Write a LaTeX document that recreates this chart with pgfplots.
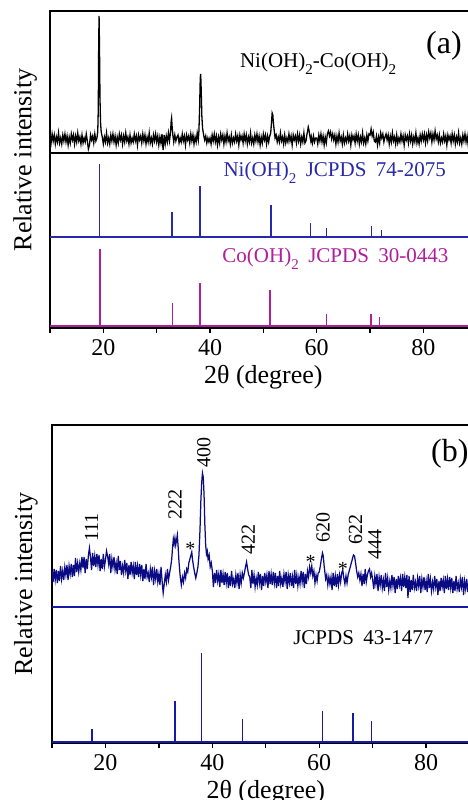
\documentclass[border=0pt]{standalone}
\usepackage{fontspec}
\setmainfont{Liberation Serif}
\usepackage{pgfplots}
\pgfplotsset{compat=1.18}
\definecolor{niblue}{RGB}{40,40,170}
\definecolor{comag}{RGB}{175,30,155}
\definecolor{navy}{RGB}{10,10,130}
\definecolor{bstick}{RGB}{25,25,165}
\newcommand{\fs}[1]{\fontsize{#1}{#1}\selectfont}
\newcommand{\sub}[1]{\raisebox{-0.32em}{\fontsize{15}{15}\selectfont #1}}
\pgfplotsset{
  xrdaxis/.style={
    scale only axis, xmin=10, xmax=90, ymin=0,
    axis line style={line width=1.3pt},
    xtick={20,40,60,80}, minor xtick={10,30,50,70,90},
    ytick=\empty,
    tick align=outside, tick pos=left,
    major tick length=5pt, minor tick length=5pt,
    every tick/.style={black, line width=1.3pt},
    /pgf/number format/assume math mode=true,
    tick label style={font=\fs{24}},
    label style={font=\fs{26}},
    xlabel={2θ (degree)},
    ylabel={Relative intensity},
    xticklabel style={yshift=-3pt},
    xlabel style={at={(axis description cs:0.5,0)}, anchor=north, inner sep=0pt, yshift=-37pt},
    clip=true,
  }
}
\begin{document}
\begin{tikzpicture}
\useasboundingbox (0,0) rectangle (468pt,800pt);
% ---------------- panel (a)
\begin{axis}[xrdaxis, at={(50pt,472pt)}, anchor=south west,
  width=426.7pt, height=317pt, ymax=317,
  ylabel style={at={(axis description cs:-0.030,0.53)}, anchor=south, inner sep=0pt}]
\addplot[black, line width=1.3pt] coordinates {
(10.0,192) (10.2,185) (10.4,194) (10.6,187) (10.8,193)
(11.0,184) (11.2,191) (11.4,186) (11.6,195) (11.8,185)
(12.0,190) (12.2,184) (12.4,193) (12.6,187) (12.8,194)
(13.0,186) (13.2,192) (13.4,183) (13.6,191) (13.8,185)
(14.0,194) (14.2,188) (14.4,193) (14.6,184) (14.8,192)
(15.0,186) (15.2,195) (15.4,187) (15.6,191) (15.8,184)
(16.0,193) (16.2,185) (16.4,190) (16.6,186) (16.8,194)
(17.0,187) (17.2,179) (17.4,183) (17.6,193) (17.8,188)
(18.0,192) (18.2,185) (18.4,194) (18.6,187) (18.8,190)
(18.95,196) (19.05,218) (19.13,285) (19.20,312) (19.28,282) (19.37,230) (19.47,206) (19.60,196) (19.80,191)
(20.0,184) (20.2,191) (20.4,186) (20.6,195) (20.8,185)
(21.0,190) (21.2,184) (21.4,193) (21.6,187) (21.8,194)
(22.0,186) (22.2,192) (22.4,183) (22.6,191) (22.8,185)
(23.0,194) (23.2,188) (23.4,193) (23.6,184) (23.8,192)
(24.0,186) (24.2,195) (24.4,187) (24.6,191) (24.8,184)
(25.0,193) (25.2,185) (25.4,190) (25.6,186) (25.8,194)
(26.0,187) (26.2,192) (26.4,183) (26.6,193) (26.8,188)
(27.0,192) (27.2,185) (27.4,194) (27.6,187) (27.8,193)
(28.0,184) (28.2,191) (28.4,186) (28.6,195) (28.8,185)
(29.0,190) (29.2,184) (29.4,193) (29.6,187) (29.8,194)
(30.0,186) (30.2,192) (30.4,183) (30.6,191) (30.8,185)
(31.0,194) (31.2,178) (31.4,193) (31.6,184) (31.8,192)
(32.0,186) (32.2,195) (32.4,187) (32.6,196) (32.72,207) (32.80,210) (32.90,201) (33.05,192) (33.2,186) (33.4,193) (33.6,187) (33.8,191)
(34.0,193) (34.2,185) (34.4,190) (34.6,186) (34.8,194)
(35.0,187) (35.2,192) (35.4,183) (35.6,193) (35.8,188)
(36.0,192) (36.2,185) (36.4,194) (36.6,187) (36.8,193)
(37.0,184) (37.2,191) (37.4,186) (37.6,195) (37.8,188)
(37.92,197) (38.05,220) (38.17,250) (38.25,254) (38.35,238) (38.47,212) (38.6,200) (38.8,193) (39.0,188) (39.2,192) (39.4,185) (39.6,190) (39.8,186)
(40.0,190) (40.2,184) (40.4,193) (40.6,187) (40.8,194)
(41.0,186) (41.2,192) (41.4,183) (41.6,191) (41.8,185)
(42.0,194) (42.2,188) (42.4,193) (42.6,184) (42.8,192)
(43.0,186) (43.2,195) (43.4,187) (43.6,191) (43.8,184)
(44.0,193) (44.2,185) (44.4,190) (44.6,186) (44.8,194)
(45.0,187) (45.2,192) (45.4,183) (45.6,193) (45.8,188)
(46.0,192) (46.2,185) (46.4,194) (46.6,187) (46.8,193)
(47.0,184) (47.2,191) (47.4,186) (47.6,195) (47.8,185)
(48.0,190) (48.2,184) (48.4,193) (48.6,187) (48.8,194)
(49.0,186) (49.2,192) (49.4,183) (49.6,191) (49.8,185)
(50.0,194) (50.2,188) (50.4,193) (50.6,184) (50.8,192)
(51.0,186) (51.2,192) (51.38,195) (51.52,205) (51.65,215) (51.78,213) (51.9,204) (52.05,197) (52.2,190) (52.4,193) (52.6,186) (52.8,191)
(53.0,186) (53.2,195) (53.4,187) (53.6,191) (53.8,184)
(54.0,193) (54.2,185) (54.4,190) (54.6,186) (54.8,194)
(55.0,187) (55.2,192) (55.4,183) (55.6,193) (55.8,188)
(56.0,192) (56.2,185) (56.4,194) (56.6,187) (56.8,193)
(57.0,184) (57.2,191) (57.4,186) (57.6,195) (57.8,185)
(58.0,187) (58.15,193) (58.3,197) (58.42,201) (58.55,198) (58.72,192) (58.9,187) (59.0,191) (59.2,185) (59.4,192) (59.6,186) (59.8,190)
(60.0,190) (60.2,184) (60.4,193) (60.6,187) (60.8,194)
(61.0,186) (61.2,192) (61.4,183) (61.6,191) (61.8,185)
(62.0,194) (62.2,197) (62.4,192) (62.6,196) (62.8,189)
(63.0,194) (63.2,188) (63.4,193) (63.6,184) (63.8,192)
(64.0,186) (64.2,195) (64.4,187) (64.6,191) (64.8,184)
(65.0,193) (65.2,185) (65.4,190) (65.6,186) (65.8,194)
(66.0,187) (66.2,192) (66.4,183) (66.6,193) (66.8,188)
(67.0,192) (67.2,185) (67.4,194) (67.6,187) (67.8,193)
(68.0,184) (68.2,191) (68.4,186) (68.6,195) (68.8,185)
(69.0,190) (69.2,184) (69.4,193) (69.6,187) (69.8,194)
(70.0,193) (70.2,199) (70.4,192) (70.6,196) (70.8,187)
(71.0,186) (71.2,192) (71.4,183) (71.6,191) (71.8,185)
(72.0,195) (72.2,190) (72.4,194) (72.6,186) (72.8,191)
(73.0,194) (73.2,188) (73.4,193) (73.6,184) (73.8,192)
(74.0,186) (74.2,195) (74.4,187) (74.6,191) (74.8,184)
(75.0,193) (75.2,185) (75.4,190) (75.6,186) (75.8,194)
(76.0,187) (76.2,192) (76.4,183) (76.6,193) (76.8,188)
(77.0,192) (77.2,185) (77.4,194) (77.6,187) (77.8,193)
(78.0,184) (78.2,191) (78.4,186) (78.6,195) (78.8,185)
(79.0,190) (79.2,184) (79.4,193) (79.6,187) (79.8,194)
(80.0,188) (80.2,194) (80.4,185) (80.6,193) (80.8,187)
(81.0,196) (81.2,190) (81.4,195) (81.6,186) (81.8,194)
(82.0,188) (82.2,197) (82.4,189) (82.6,193) (82.8,186)
(83.0,193) (83.2,185) (83.4,190) (83.6,186) (83.8,194)
(84.0,187) (84.2,192) (84.4,183) (84.6,193) (84.8,188)
(85.0,192) (85.2,185) (85.4,194) (85.6,187) (85.8,193)
(86.0,184) (86.2,191) (86.4,186) (86.6,195) (86.8,185)
(87.0,190) (87.2,184) (87.4,193) (87.6,187) (87.8,194)
(88.0,186) (88.2,192) (88.4,183) (88.6,191) (88.8,185)
(89.0,194) (89.2,188) (89.4,193) (89.6,184) (89.8,192) (90.0,190)
};
% separator
\addplot[black, line width=1.2pt] coordinates {(10,175) (90,175)};
% Ni(OH)2 sticks
\addplot[niblue, line width=1.3pt] coordinates {(10,91) (90,91)};
\addplot[niblue, line width=1.3pt, unbounded coords=jump] coordinates {
(19.25,91) (19.25,164) (19.25,inf)
(32.90,91) (32.90,116) (32.90,inf)
(38.15,91) (38.15,142) (38.15,inf)
(51.45,91) (51.45,123) (51.45,inf)
(58.90,91) (58.90,105) (58.90,inf)
(61.90,91) (61.90,100) (61.90,inf)
(70.25,91) (70.25,102) (70.25,inf)
(72.10,91) (72.10,98)
};
% Co(OH)2 sticks
\addplot[comag, line width=1.3pt] coordinates {(10,2) (90,2)};
\addplot[comag, line width=1.3pt, unbounded coords=jump] coordinates {
(19.40,2) (19.40,79) (19.40,inf)
(33.00,2) (33.00,25) (33.00,inf)
(38.10,2) (38.10,45) (38.10,inf)
(51.25,2) (51.25,38) (51.25,inf)
(61.80,2) (61.80,14) (61.80,inf)
(70.20,2) (70.20,14) (70.20,inf)
(71.80,2) (71.80,11)
};
\node[anchor=base west, font=\fs{21}, inner sep=0pt] at (axis cs:45.6,260) {Ni(OH)\sub{2}-Co(OH)\sub{2}};
\node[anchor=base west, font=\fs{32}, inner sep=0pt] at (axis cs:80.5,274) {(a)};
\node[anchor=base west, font=\fs{21}, inner sep=0pt, text=niblue] at (axis cs:42.5,151) {Ni(OH)\sub{2}\hspace{0.45em}JCPDS\hspace{0.45em}74-2075};
\node[anchor=base west, font=\fs{21}, inner sep=0pt, text=comag] at (axis cs:42.3,65) {Co(OH)\sub{2}\hspace{0.45em}JCPDS\hspace{0.45em}30-0443};
\end{axis}
% ---------------- panel (b)
\begin{axis}[xrdaxis, at={(52pt,57pt)}, anchor=south west,
  width=427.6pt, height=318pt, ymax=318,
  ylabel style={at={(axis description cs:-0.033,0.5)}, anchor=south, inner sep=0pt}]
\addplot[navy, line width=1.25pt] coordinates {
(10.0,172) (10.2,161) (10.4,174) (10.6,163) (10.8,173)
(11.0,160) (11.2,172) (11.4,162) (11.6,177) (11.8,164)
(12.0,172) (12.2,163) (12.4,176) (12.6,168) (12.8,178)
(13.0,163) (13.2,177) (13.4,169) (13.6,179) (13.8,166)
(14.0,178) (14.2,167) (14.4,185) (14.6,171) (14.8,180)
(15.0,171) (15.2,180) (15.4,173) (15.6,186) (15.8,175)
(16.0,186) (16.2,170) (16.4,184) (16.6,174) (16.8,187)
(17.0,195) (17.2,186) (17.4,173) (17.6,190) (17.8,177)
(18.0,187) (18.2,176) (18.4,189) (18.6,178) (18.8,188)
(19.0,172) (19.2,184) (19.4,174) (19.6,189) (19.8,176)
(20.0,183) (20.2,192) (20.4,187) (20.6,179) (20.8,189)
(21.0,170) (21.2,184) (21.4,176) (21.6,186) (21.8,173)
(22.0,180) (22.2,169) (22.4,187) (22.6,173) (22.8,182)
(23.0,168) (23.2,177) (23.4,170) (23.6,183) (23.8,172)
(24.0,180) (24.2,164) (24.4,178) (24.6,168) (24.8,181)
(25.0,170) (25.2,177) (25.4,164) (25.6,181) (25.8,168)
(26.0,177) (26.2,166) (26.4,179) (26.6,168) (26.8,178)
(27.0,162) (27.2,174) (27.4,164) (27.6,179) (27.8,166)
(28.0,170) (28.2,161) (28.4,174) (28.6,166) (28.8,176)
(29.0,158) (29.2,172) (29.4,164) (29.6,174) (29.8,161)
(30.0,169) (30.2,158) (30.4,176) (30.6,162) (30.8,150)
(31.0,159) (31.2,168) (31.4,161) (31.6,174) (31.8,163)
(32.0,170) (32.2,176) (32.4,184) (32.55,195) (32.7,204) (32.85,199) (33.0,205) (33.15,198) (33.3,203) (33.45,208) (33.6,196) (33.75,182) (33.9,172)
(34.0,166) (34.2,158) (34.4,166) (34.6,161) (34.8,170)
(35.0,165) (35.2,174) (35.4,171) (35.6,180) (35.8,184) (36.0,188) (36.15,191) (36.3,183) (36.5,176) (36.7,170) (36.9,165)
(37.1,170) (37.3,176) (37.5,188) (37.7,215) (37.85,242) (38.0,260) (38.15,270) (38.3,266) (38.45,248) (38.6,218) (38.75,198) (38.9,189) (39.05,192) (39.2,184) (39.4,188) (39.6,176) (39.8,180)
(40.0,172) (40.2,156) (40.4,170) (40.6,160) (40.8,173)
(41.0,162) (41.2,169) (41.4,156) (41.6,173) (41.8,160)
(42.0,169) (42.2,158) (42.4,171) (42.6,160) (42.8,170)
(43.0,155) (43.2,167) (43.4,157) (43.6,172) (43.8,159)
(44.0,164) (44.2,155) (44.4,168) (44.6,160) (44.8,170)
(45.0,154) (45.2,168) (45.4,160) (45.6,170) (45.8,165)
(46.0,170) (46.2,176) (46.4,181) (46.6,174) (46.8,168)
(47.0,166) (47.2,155) (47.4,173) (47.6,159) (47.8,168)
(48.0,156) (48.2,165) (48.4,158) (48.6,171) (48.8,160)
(49.0,169) (49.2,153) (49.4,167) (49.6,157) (49.8,170)
(50.0,161) (50.2,168) (50.4,155) (50.6,172) (50.8,159)
(51.0,169) (51.2,158) (51.4,171) (51.6,160) (51.8,170)
(52.0,155) (52.2,167) (52.4,157) (52.6,172) (52.8,159)
(53.0,165) (53.2,156) (53.4,169) (53.6,161) (53.8,171)
(54.0,154) (54.2,168) (54.4,160) (54.6,170) (54.8,157)
(55.0,166) (55.2,155) (55.4,173) (55.6,159) (55.8,168)
(56.0,157) (56.2,166) (56.4,159) (56.6,172) (56.8,161)
(57.0,171) (57.2,155) (57.4,169) (57.6,159) (57.8,172)
(58.0,166) (58.2,176) (58.4,170) (58.6,177) (58.8,167)
(59.0,172) (59.2,160) (59.4,168) (59.6,162) (59.8,170)
(60.0,171) (60.2,177) (60.4,184) (60.6,190) (60.75,187) (60.9,178) (61.05,171) (61.2,164) (61.4,168) (61.6,158) (61.8,166)
(62.0,159) (62.2,166) (62.4,153) (62.6,170) (62.8,157)
(63.0,167) (63.2,156) (63.4,169) (63.6,158) (63.8,168)
(64.0,161) (64.2,170) (64.4,173) (64.6,165) (64.8,159)
(65.0,167) (65.2,160) (65.4,168) (65.6,172) (65.8,176) (66.0,180) (66.2,184) (66.4,188) (66.6,187) (66.8,180)
(67.0,172) (67.2,166) (67.4,170) (67.6,163) (67.8,169)
(68.0,157) (68.2,169) (68.4,159) (68.6,174) (68.8,161)
(69.0,168) (69.2,172) (69.4,174) (69.6,166) (69.8,170)
(70.0,163) (70.2,154) (70.4,167) (70.6,159) (70.8,169)
(71.0,152) (71.2,166) (71.4,158) (71.6,168) (71.8,155)
(72.0,163) (72.2,152) (72.4,170) (72.6,156) (72.8,165)
(73.0,153) (73.2,162) (73.4,155) (73.6,168) (73.8,157)
(74.0,166) (74.2,150) (74.4,164) (74.6,154) (74.8,167)
(75.0,158) (75.2,165) (75.4,152) (75.6,169) (75.8,156)
(76.0,166) (76.2,155) (76.4,168) (76.6,145) (76.8,167)
(77.0,151) (77.2,163) (77.4,153) (77.6,168) (77.8,155)
(78.0,161) (78.2,152) (78.4,165) (78.6,157) (78.8,167)
(79.0,150) (79.2,164) (79.4,156) (79.6,166) (79.8,153)
(80.0,162) (80.2,151) (80.4,169) (80.6,155) (80.8,164)
(81.0,152) (81.2,161) (81.4,154) (81.6,167) (81.8,156)
(82.0,164) (82.2,148) (82.4,162) (82.6,152) (82.8,165)
(83.0,156) (83.2,163) (83.4,150) (83.6,167) (83.8,154)
(84.0,164) (84.2,153) (84.4,166) (84.6,155) (84.8,165)
(85.0,150) (85.2,162) (85.4,152) (85.6,167) (85.8,154)
(86.0,160) (86.2,151) (86.4,164) (86.6,156) (86.8,166)
(87.0,148) (87.2,162) (87.4,154) (87.6,164) (87.8,151)
(88.0,160) (88.2,149) (88.4,167) (88.6,153) (88.8,162)
(89.0,150) (89.2,159) (89.4,152) (89.6,165) (89.8,154) (90.0,157)
};
\addplot[bstick, line width=1.2pt] coordinates {(10,136) (90,136)};
\addplot[bstick, line width=1.6pt] coordinates {(10,1) (90,1)};
\addplot[bstick, line width=1.3pt, unbounded coords=jump] coordinates {
(17.50,1) (17.50,14) (17.50,inf)
(33.00,1) (33.00,42) (33.00,inf)
(38.00,1) (38.00,90) (38.00,inf)
(45.60,1) (45.60,24) (45.60,inf)
(60.60,1) (60.60,32) (60.60,inf)
(66.30,1) (66.30,30) (66.30,inf)
(69.80,1) (69.80,22)
};
\node[anchor=base west, font=\fs{32}, inner sep=0pt] at (axis cs:80.9,281) {(b)};
\node[anchor=base west, font=\fs{21}, inner sep=0pt] at (axis cs:55.1,98) {JCPDS\hspace{0.45em}43-1477};
\begin{scope}[every node/.style={rotate=90, anchor=west, inner sep=0pt, font=\fs{20}}]
\node at (axis cs:17.4,201) {111};
\node at (axis cs:33.0,223) {222};
\node at (axis cs:38.4,275) {400};
\node at (axis cs:46.7,188) {422};
\node at (axis cs:60.7,200) {620};
\node at (axis cs:66.8,198) {622};
\node at (axis cs:70.4,183) {444};
\end{scope}
\begin{scope}[every node/.style={anchor=base, inner sep=0pt, font=\fs{20}}]
\node at (axis cs:35.9,187) {*};
\node at (axis cs:58.4,174) {*};
\node at (axis cs:64.4,167) {*};
\end{scope}
\end{axis}
\end{tikzpicture}
\end{document}
